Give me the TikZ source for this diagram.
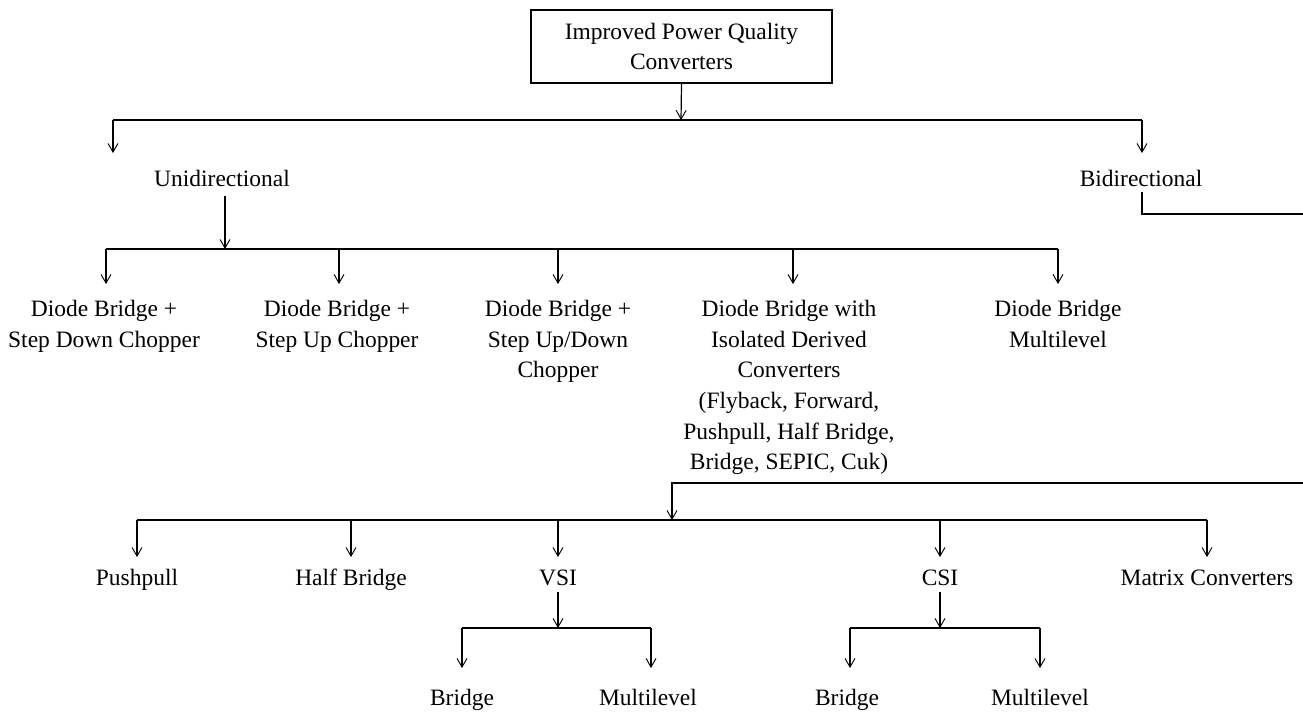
\documentclass[tikz,border=0pt]{standalone}
\usepackage{fontspec}
\setmainfont{Liberation Serif}
\usetikzlibrary{arrows.meta}
\begin{document}
\begin{tikzpicture}[x=0.75pt,y=-0.75pt,line width=0.9pt,
  lbl/.style={inner sep=0pt,font=\fontsize{17.6}{22.9}\selectfont,align=center},
  arr/.style={-{Straight Barb[length=6.5pt,width=7.5pt,line width=0.7pt]}}]
\useasboundingbox (0,0) rectangle (1303,711);

% root
\node[lbl,draw,line width=1pt,minimum width=225.75pt,minimum height=54.75pt] (top) at (681.5,46.5) {Improved Power Quality\\Converters};
\coordinate (t1) at (681,120);
\coordinate (uL) at (113,120);
\coordinate (bR) at (1142,120);
\draw[arr] (top.south) -- (t1);
\draw (uL) -- (bR);
\draw[arr] (uL) -- ++(0,33);
\draw[arr] (bR) -- ++(0,33);

% level 1
\node[lbl] (uni) at (222,178) {Unidirectional};
\node[lbl] (bi) at (1141,178) {Bidirectional};

% unidirectional branch
\coordinate (ub) at (225,249);
\draw[arr] (225,196) -- (ub);
\draw (106,249) coordinate (u1) -- (1058,249) coordinate (u5);
\coordinate (u2) at (339,249);
\coordinate (u3) at (558,249);
\coordinate (u4) at (793,249);
\foreach \c in {u1,u2,u3,u4,u5} \draw[arr] (\c) -- ++(0,35);

\node[lbl,anchor=north] (c1) at (104,300) {Diode Bridge +\\Step Down Chopper};
\node[lbl,anchor=north] (c2) at (337,300) {Diode Bridge +\\Step Up Chopper};
\node[lbl,anchor=north] (c3) at (558,300) {Diode Bridge +\\Step Up/Down\\Chopper};
\node[lbl,anchor=north] (c4) at (789,300) {Diode Bridge with\\Isolated Derived\\Converters\\(Flyback, Forward,\\Pushpull, Half Bridge,\\Bridge, SEPIC, Cuk)};
\node[lbl,anchor=north] (c5) at (1058,300) {Diode Bridge\\Multilevel};

% bidirectional branch
\coordinate (eR1) at (1303,214);
\coordinate (eR2) at (1303,483);
\coordinate (fd) at (672,483);
\coordinate (fb) at (672,520);
\draw (1142,192) -- (1142,214) -- (eR1);
\draw[arr] (eR2) -- (fd) -- (fb);
\draw (137,520) coordinate (d1) -- (1207,520) coordinate (d5);
\coordinate (d2) at (351,520);
\coordinate (d3) at (558,520);
\coordinate (d4) at (940,520);
\foreach \c in {d1,d2,d3,d4,d5} \draw[arr] (\c) -- ++(0,37);

\node[lbl,anchor=base] (push) at (137,585) {Pushpull};
\node[lbl,anchor=base] (half) at (351,585) {Half Bridge};
\node[lbl,anchor=base] (vsi) at (558,585) {VSI};
\node[lbl,anchor=base] (csi) at (940,585) {CSI};
\node[lbl,anchor=base] (mat) at (1207,585) {Matrix Converters};

% VSI
\coordinate (vb) at (558,628);
\draw[arr] (558,592) -- (vb);
\draw[line width=1.3pt] (462,628) coordinate (v1) -- (651,628) coordinate (v2);
\draw[arr] (v1) -- ++(0,40);
\draw[arr] (v2) -- ++(0,40);
\node[lbl,anchor=base] (vbr) at (462,705) {Bridge};
\node[lbl,anchor=base] (vml) at (648,705) {Multilevel};

% CSI
\coordinate (cb) at (940,628);
\draw[arr] (940,592) -- (cb);
\draw (850,628) coordinate (s1) -- (1040,628) coordinate (s2);
\draw[arr] (s1) -- ++(0,40);
\draw[arr] (s2) -- ++(0,40);
\node[lbl,anchor=base] (cbr) at (847,705) {Bridge};
\node[lbl,anchor=base] (cml) at (1040,705) {Multilevel};
\end{tikzpicture}
\end{document}
